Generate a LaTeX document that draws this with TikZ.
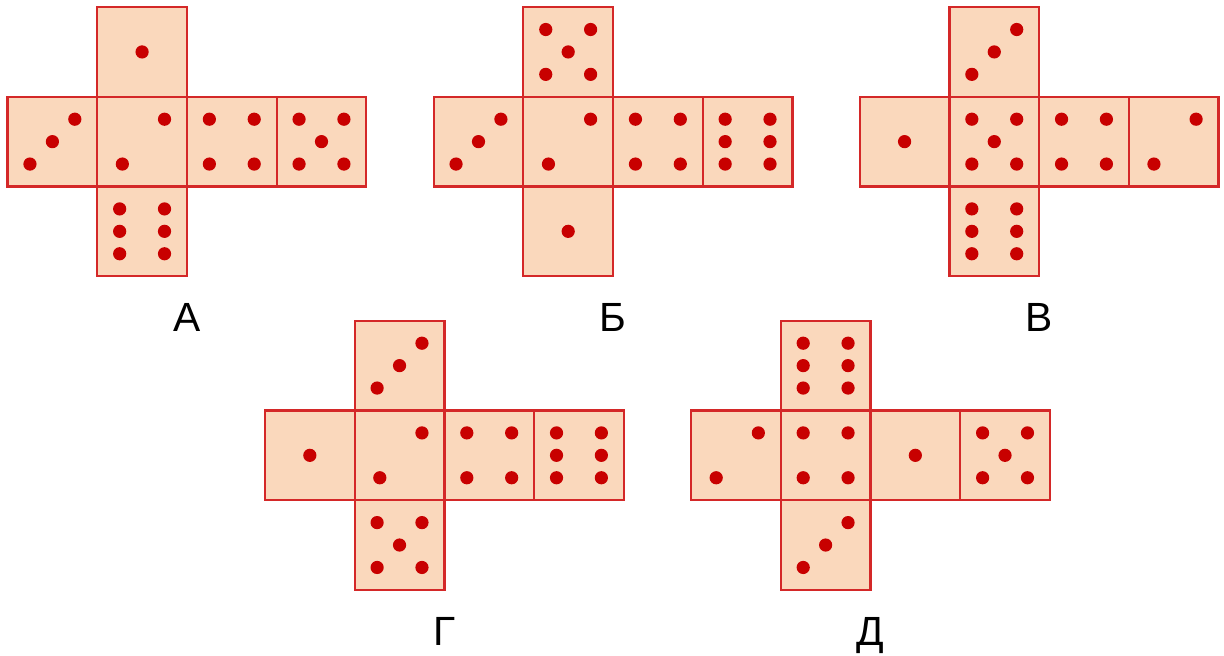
\documentclass[tikz,border=0pt]{standalone}
\usepackage{fontspec}
\setmainfont{Liberation Sans}
\usetikzlibrary{positioning}

\definecolor{facefill}{RGB}{250,216,188}
\definecolor{faceedge}{RGB}{212,40,40}
\definecolor{pipred}{RGB}{200,0,0}

% pip offsets from the centre of a face (y runs downwards)
\newcommand{\pipsI}{0/0}
\newcommand{\pipsII}{0.25/-0.25, -0.22/0.25}
\newcommand{\pipsIII}{0.25/-0.25, 0/0, -0.25/0.25}
\newcommand{\pipsIV}{-0.25/-0.25, 0.25/-0.25, -0.25/0.25, 0.25/0.25}
\newcommand{\pipsV}{-0.25/-0.25, 0.25/-0.25, 0/0, -0.25/0.25, 0.25/0.25}
\newcommand{\pipsVI}{-0.25/-0.25, 0.25/-0.25, -0.25/0, 0.25/0, -0.25/0.25, 0.25/0.25}

% one face: top left corner, pip list (fill only, edges come later)
\newcommand{\dieface}[3]{%
  \fill[face] (#1,#2) rectangle ++(1,1);
  \foreach \dx/\dy in #3
    \fill[pip] (#1+0.5+\dx,#2+0.5+\dy) circle[radius=4.7pt];
}

% one net: left end of the row, top face, four row faces, bottom face
\newcommand{\dienet}[8]{%
  \dieface{#1+1}{#2-1}{#3}
  \dieface{#1}{#2}{#4}
  \dieface{#1+1}{#2}{#5}
  \dieface{#1+2}{#2}{#6}
  \dieface{#1+3}{#2}{#7}
  \dieface{#1+1}{#2+1}{#8}
  % edges on top of all fills
  \draw[edge] (#1+1,#2-1) rectangle ++(1,3)
              (#1,#2) rectangle ++(4,1)
              (#1+3,#2) -- ++(0,1);
}

\begin{document}
\begin{tikzpicture}[x=2.2425cm, y=-2.2425cm,
    face/.style={fill=facefill},
    edge/.style={draw=faceedge, line width=1.6pt},
    pip/.style={fill=pipred},
    netlabel/.style={anchor=base, inner sep=0pt, font=\fontsize{29}{34}\selectfont}]
  \useasboundingbox (0,0) rectangle (13.645,7.302);

  % top row of nets
  \dienet{0.084}{1.079}{\pipsI}{\pipsIII}{\pipsII}{\pipsIV}{\pipsV}{\pipsVI}
  \dienet{4.834}{1.079}{\pipsV}{\pipsIII}{\pipsII}{\pipsIV}{\pipsVI}{\pipsI}
  \dienet{9.584}{1.079}{\pipsIII}{\pipsI}{\pipsV}{\pipsIV}{\pipsII}{\pipsVI}
  % bottom row of nets
  \dienet{2.954}{4.576}{\pipsIII}{\pipsI}{\pipsII}{\pipsIV}{\pipsVI}{\pipsV}
  \dienet{7.704}{4.576}{\pipsVI}{\pipsII}{\pipsIV}{\pipsI}{\pipsV}{\pipsIII}

  % labels
  \node[netlabel] (labA) at (2.084,3.70) {А};
  \node[netlabel] (labB) at (6.834,3.70) {Б};
  \node[netlabel] (labV) at (11.584,3.70) {В};
  \node[netlabel] (labG) at (4.954,7.20) {Г};
  \node[netlabel] (labD) at (9.704,7.20) {Д};
\end{tikzpicture}
\end{document}
